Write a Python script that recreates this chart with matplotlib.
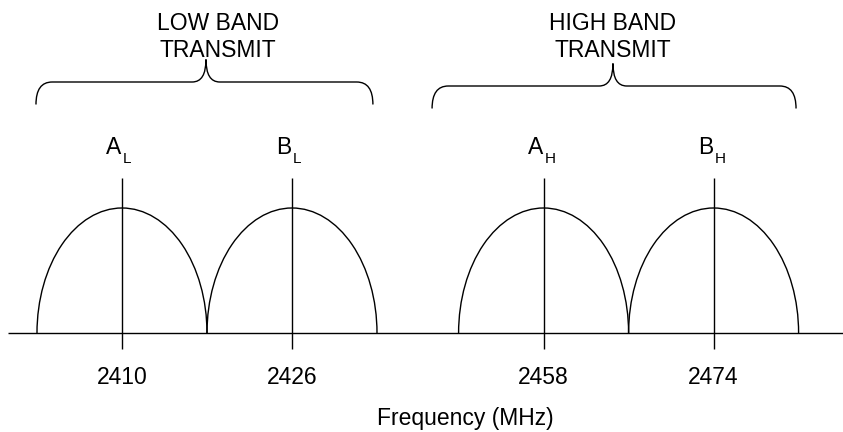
"""Low / high band transmit channel diagram."""

import matplotlib

matplotlib.use("Agg")
import matplotlib.pyplot as plt
from matplotlib.patches import Arc, PathPatch
from matplotlib.path import Path

plt.rcParams["font.family"] = ["Liberation Sans", "DejaVu Sans"]

# channel data
channel_freqs = [2410, 2426, 2458, 2474]
channel_letters = ["A", "B", "A", "B"]
channel_subs = ["L", "L", "H", "H"]
# position of each channel along the (not to scale) diagram axis
channel_pos = [0.0, 1.0, 2.48, 3.48]
channel_level = [1.0, 1.0, 1.0, 1.0]
channel_halfwidth = 0.5

band_titles = ["LOW BAND", "HIGH BAND"]
band_sub = "TRANSMIT"
# brace extents (left, right, tip x, bar level)
band_left = [-0.506, 1.824]
band_right = [1.476, 3.965]
band_tip = [0.494, 2.888]
band_bar = [2.008, 1.976]
band_label_x = [0.565, 2.885]

LW = 1.0
FS = 16.5


def draw_brace(ax, left, right, tip, bar):
    drop = 0.18   # how far the ends hang below the bar
    rise = 0.18   # how far the tip sits above the bar
    cx = 0.095    # horizontal size of the rounded corners
    verts = [
        (left, bar - drop), (left, bar), (left + cx, bar),
        (tip - cx * 0.85, bar),
        (tip, bar), (tip, bar + rise),
        (tip, bar), (tip + cx * 0.85, bar),
        (right - cx, bar),
        (right, bar), (right, bar - drop),
    ]
    codes = [
        Path.MOVETO, Path.CURVE3, Path.CURVE3,
        Path.LINETO,
        Path.CURVE3, Path.CURVE3,
        Path.CURVE3, Path.CURVE3,
        Path.LINETO,
        Path.CURVE3, Path.CURVE3,
    ]
    ax.add_patch(PathPatch(Path(verts, codes), fill=False, lw=LW, color="black"))


fig = plt.figure(figsize=(8.43, 4.32), dpi=100)
ax = fig.add_axes([0, 0, 1, 1])
ax.set_xlim(-0.7176, 4.2412)
ax.set_ylim(-0.792, 2.664)
ax.axis("off")

# baseline (frequency axis)
ax.hlines(0, -0.671, 4.2412, color="black", lw=LW)

for pos, level, freq, letter, sub in zip(channel_pos, channel_level, channel_freqs, channel_letters, channel_subs):
    ax.add_patch(Arc((pos, 0), 2 * channel_halfwidth, 2 * level, theta1=0, theta2=180, lw=LW, color="black"))
    ax.vlines(pos, -0.128, 1.24, color="black", lw=LW)
    ax.text(pos - 0.004, 1.43, letter, ha="right", va="baseline", fontsize=FS)
    ax.text(pos + 0.004, 1.357, sub, ha="left", va="baseline", fontsize=11)
    ax.text(pos, -0.36, str(freq), ha="center", va="center", fontsize=FS)

for title, left, right, tip, bar, lx in zip(band_titles, band_left, band_right, band_tip, band_bar, band_label_x):
    draw_brace(ax, left, right, tip, bar)
    ax.text(lx, 2.424, title, ha="center", va="baseline", fontsize=FS)
    ax.text(lx, 2.208, band_sub, ha="center", va="baseline", fontsize=FS)

ax.text(2.018, -0.68, "Frequency (MHz)", ha="center", va="center", fontsize=FS)

fig.savefig("out.png", dpi=100, facecolor="white")
plt.close(fig)
